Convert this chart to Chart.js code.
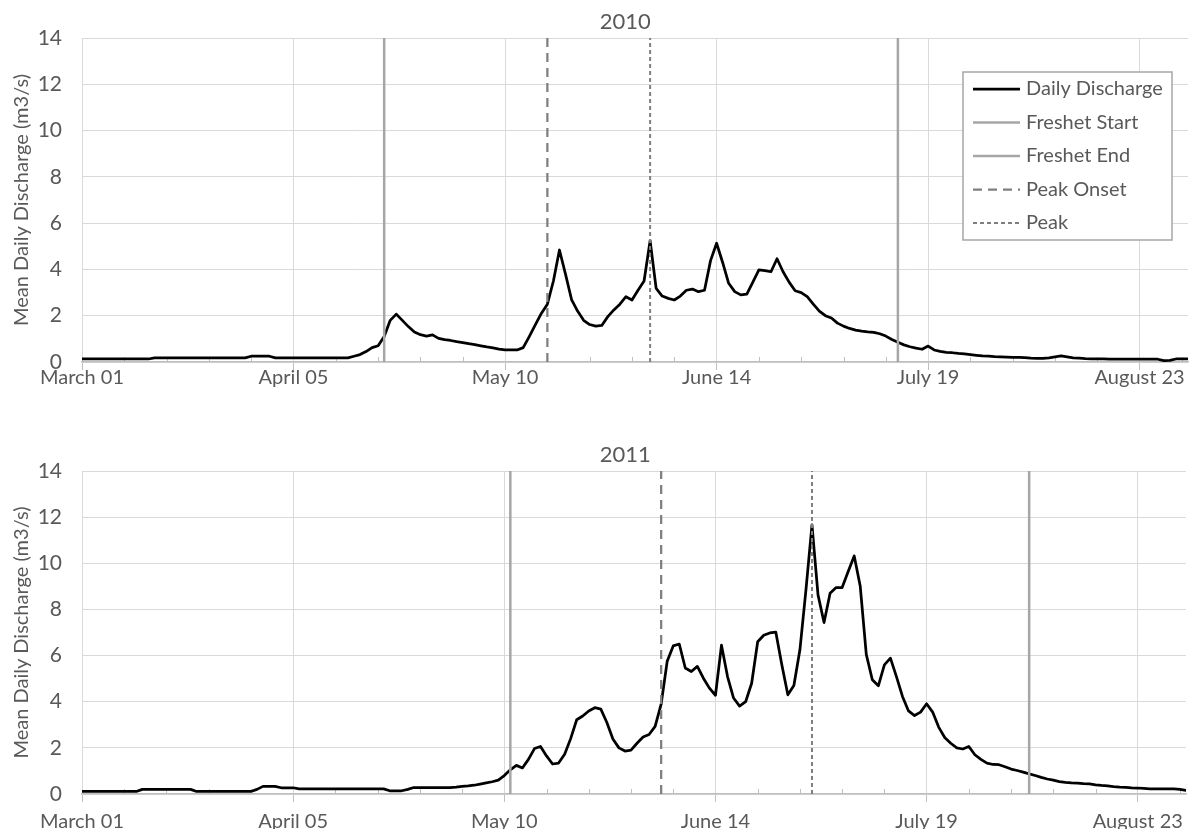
<!DOCTYPE html>
<html>
<head>
<meta charset="utf-8">
<title>Mean Daily Discharge 2010 / 2011</title>
<script src="https://cdn.jsdelivr.net/npm/chart.js@4.4.1/dist/chart.umd.min.js"></script>
<style>
  html, body { margin: 0; padding: 0; background: #ffffff; }
  #page { position: relative; width: 1190px; height: 835px; overflow: hidden; }
  .panel { position: absolute; left: 0; width: 1190px; }
  #panel2010 { top: 0; height: 400px; }
  #panel2011 { top: 400px; height: 435px; }
</style>
</head>
<body>
<div id="page">
  <div class="panel" id="panel2010"><canvas id="chart2010" width="1190" height="400"></canvas></div>
  <div class="panel" id="panel2011"><canvas id="chart2011" width="1190" height="435"></canvas></div>
</div>
<script>
// ---- data: day index 0 = March 01, 183 = August 31 ----
const tickDays   = [0, 35, 70, 105, 140, 175];
const tickLabels = ['March 01', 'April 05', 'May 10', 'June 14', 'July 19', 'August 23'];
const lastDay = 183;
const yMax = 14;

// mean daily discharge (m3/s), one value per day
const discharge2010 = [
  // March
  0.13,0.13,0.13,0.13,0.13,0.13,0.13,0.13,0.13,0.13,0.13,0.13,
  0.18,0.18,0.18,0.18,0.18,0.18,0.18,0.18,0.18,0.18,0.18,0.18,0.18,0.18,0.18,0.18,
  0.25,0.25,0.25,
  // April
  0.25,0.18,0.18,0.18,0.18,0.18,0.18,0.18,0.18,0.18,0.18,0.18,0.18,0.18,
  0.25,0.32,0.45,0.62,0.7,1.1,1.8,2.07,1.8,1.53,1.3,1.18,1.12,1.17,1.02,0.97,
  // May
  0.93,0.88,0.84,0.79,0.75,0.7,0.65,0.61,0.56,0.52,0.52,0.52,0.62,1.1,1.6,2.1,
  2.5,3.5,4.84,3.8,2.7,2.2,1.8,1.62,1.55,1.58,1.96,2.25,2.5,2.82,2.68,
  // June
  3.1,3.5,5.24,3.18,2.85,2.75,2.68,2.85,3.1,3.15,3.04,3.1,4.38,5.13,4.3,
  3.4,3.04,2.9,2.93,3.45,3.98,3.95,3.9,4.46,3.9,3.45,3.08,3.0,2.82,2.5,
  // July
  2.2,2.0,1.9,1.68,1.55,1.45,1.38,1.33,1.3,1.28,1.22,1.12,0.97,0.85,0.74,0.66,
  0.6,0.55,0.69,0.52,0.46,0.42,0.4,0.37,0.35,0.32,0.29,0.26,0.25,0.23,0.22,
  // August
  0.21,0.2,0.2,0.19,0.17,0.16,0.16,0.18,0.22,0.26,0.22,0.18,0.17,0.15,0.14,0.13,
  0.13,0.12,0.12,0.12,0.12,0.12,0.12,0.12,0.12,0.12,0.06,0.07,0.13,0.13,0.13
];

const discharge2011 = [
  // March
  0.11,0.11,0.11,0.11,0.11,0.11,0.11,0.11,0.11,0.11,
  0.2,0.2,0.2,0.2,0.2,0.2,0.2,0.2,0.2,
  0.11,0.11,0.11,0.11,0.11,0.11,0.11,0.11,0.11,0.11,0.2,0.33,
  // April
  0.33,0.33,0.27,0.27,0.27,0.22,0.22,0.22,0.22,0.22,0.22,0.22,0.22,0.22,0.22,
  0.22,0.22,0.22,0.22,0.22,0.14,0.14,0.14,0.2,0.28,0.28,0.28,0.28,0.28,0.28,
  // May
  0.28,0.3,0.33,0.35,0.38,0.43,0.48,0.53,0.6,0.8,1.05,1.24,1.13,1.5,1.97,2.06,
  1.65,1.3,1.34,1.72,2.4,3.22,3.38,3.6,3.74,3.68,3.1,2.38,2.0,1.86,1.9,
  // June
  2.2,2.47,2.58,2.93,3.9,5.75,6.42,6.5,5.46,5.31,5.53,5.02,4.59,4.28,6.45,
  5.09,4.16,3.81,4.0,4.8,6.6,6.88,6.98,7.02,5.6,4.3,4.7,6.25,8.85,11.66,
  // July
  8.63,7.43,8.7,8.95,8.95,9.64,10.32,9.0,6.05,4.95,4.69,5.6,5.89,5.09,4.23,3.6,
  3.4,3.55,3.91,3.55,2.9,2.45,2.2,2.0,1.95,2.06,1.7,1.5,1.34,1.28,1.27,
  // August
  1.18,1.08,1.02,0.95,0.87,0.8,0.72,0.65,0.6,0.54,0.5,0.48,0.47,0.45,0.44,0.4,
  0.37,0.35,0.32,0.3,0.29,0.27,0.26,0.24,0.22,0.22,0.22,0.22,0.22,0.2,0.16
];

// freshet event days: start, end, peak onset, peak
const eventNames = ['Freshet Start', 'Freshet End', 'Peak Onset', 'Peak'];
const events2010 = [50, 135, 77, 94];
const events2011 = [71, 157, 96, 121];

// ---- styling ----
const FONT = 'Lato, "Liberation Sans", sans-serif';
const TEXT = '#595959';
const GRID = '#d9d9d9';
const AXIS = '#bfbfbf';

const eventStyles = [
  { color: '#a6a6a6', width: 2.5, dash: [] },
  { color: '#a6a6a6', width: 2.5, dash: [] },
  { color: '#7f7f7f', width: 2.25, dash: [9, 6] },
  { color: '#7f7f7f', width: 2, dash: [4, 3] }
];

function isMajor(v) { return tickDays.indexOf(v) !== -1; }

// short inward marks for the weekly minor ticks
const minorTicks = {
  id: 'minorTicks',
  beforeDatasetsDraw(chart) {
    const sx = chart.scales.x, area = chart.chartArea, ctx = chart.ctx;
    ctx.save();
    ctx.strokeStyle = AXIS;
    ctx.lineWidth = 1;
    sx.ticks.forEach(t => {
      if (isMajor(t.value)) return;
      const px = Math.round(sx.getPixelForValue(t.value)) + 0.5;
      ctx.beginPath();
      ctx.moveTo(px, area.bottom);
      ctx.lineTo(px, area.bottom - 5);
      ctx.stroke();
    });
    ctx.restore();
  }
};

// panel heading drawn above the plot
const panelTitle = {
  id: 'panelTitle',
  afterDraw(chart, args, opts) {
    if (!opts.text) return;
    const ctx = chart.ctx;
    ctx.save();
    ctx.font = '22px ' + FONT;
    ctx.fillStyle = TEXT;
    ctx.textAlign = 'center';
    ctx.textBaseline = 'middle';
    ctx.fillText(opts.text, chart.width * 0.5255, chart.chartArea.top - 16);
    ctx.restore();
  }
};

// boxed legend in the upper right of the plot
const boxLegend = {
  id: 'boxLegend',
  afterDraw(chart, args, opts) {
    if (!opts.display) return;
    const ctx = chart.ctx, area = chart.chartArea;
    const items = chart.data.datasets.slice().sort((a, b) => a.legendRank - b.legendRank);
    const rowH = 33.5, boxW = 209, boxH = 168;
    const left = area.right - 225, top = area.top + 34;
    ctx.save();
    ctx.fillStyle = '#ffffff';
    ctx.fillRect(left, top, boxW, boxH);
    ctx.strokeStyle = '#a6a6a6';
    ctx.lineWidth = 1.5;
    ctx.strokeRect(left, top, boxW, boxH);
    ctx.font = '20px ' + FONT;
    ctx.textBaseline = 'middle';
    ctx.textAlign = 'left';
    items.forEach((ds, i) => {
      const cy = top + 17 + i * rowH;
      ctx.beginPath();
      ctx.strokeStyle = ds.borderColor;
      ctx.lineWidth = ds.borderWidth;
      ctx.setLineDash(ds.borderDash || []);
      ctx.moveTo(left + 10, cy);
      ctx.lineTo(left + 57, cy);
      ctx.stroke();
      ctx.setLineDash([]);
      ctx.fillStyle = TEXT;
      ctx.fillText(ds.label, left + 63, cy);
    });
    ctx.restore();
  }
};

function buildChart(canvasId, year, values, events, opt) {
  const datasets = events.map((day, i) => ({
    label: eventNames[i],
    legendRank: i + 1,
    data: [{ x: day, y: 0 }, { x: day, y: yMax }],
    borderColor: eventStyles[i].color,
    borderWidth: eventStyles[i].width,
    borderDash: eventStyles[i].dash,
    pointRadius: 0,
    order: 1
  }));
  datasets.push({
    label: 'Daily Discharge',
    legendRank: 0,
    data: values.map((v, d) => ({ x: d, y: v })),
    borderColor: '#000000',
    borderWidth: 2.75,
    borderJoinStyle: 'round',
    borderCapStyle: 'round',
    pointRadius: 0,
    tension: 0,
    order: 2
  });

  return new Chart(document.getElementById(canvasId), {
    type: 'line',
    data: { datasets },
    options: {
      responsive: false,
      animation: false,
      events: [],
      layout: { padding: { top: opt.padTop, right: 2, bottom: opt.padBottom, left: 8 } },
      plugins: {
        legend: { display: false },
        tooltip: { enabled: false },
        panelTitle: { text: String(year) },
        boxLegend: { display: opt.legend }
      },
      scales: {
        x: {
          type: 'linear',
          min: 0,
          max: lastDay,
          afterBuildTicks: s => {
            const t = [];
            for (let d = 0; d <= lastDay; d += 7) t.push({ value: d });
            s.ticks = t;
          },
          afterFit: s => { s.height = opt.xHeight; },
          ticks: {
            autoSkip: false,
            maxRotation: 0,
            color: TEXT,
            padding: opt.xPad,
            font: { family: FONT, size: 20, lineHeight: 1 },
            callback: v => { const i = tickDays.indexOf(v); return i >= 0 ? tickLabels[i] : ''; }
          },
          grid: {
            color: c => (c.tick && isMajor(c.tick.value)) ? GRID : 'rgba(0,0,0,0)',
            tickColor: c => (c.tick && isMajor(c.tick.value)) ? AXIS : 'rgba(0,0,0,0)',
            tickLength: 8,
            lineWidth: 1
          },
          border: { color: AXIS, width: 1.5 }
        },
        y: {
          min: 0,
          max: yMax,
          afterFit: s => { s.width = 74; },
          ticks: {
            stepSize: 2,
            color: TEXT,
            padding: 20,
            font: { family: FONT, size: 21 }
          },
          grid: { color: GRID, drawTicks: false, lineWidth: 1 },
          border: { display: false },
          title: {
            display: true,
            text: 'Mean Daily Discharge (m3/s)',
            color: TEXT,
            padding: { top: 2, bottom: 0 },
            font: { family: FONT, size: 20 }
          }
        }
      }
    },
    plugins: [minorTicks, panelTitle, boxLegend]
  });
}

buildChart('chart2010', 2010, discharge2010, events2010,
  { padTop: 38, padBottom: 8, xHeight: 30, xPad: -2, legend: true });
buildChart('chart2011', 2011, discharge2011, events2011,
  { padTop: 71, padBottom: 6, xHeight: 35, xPad: 10, legend: false });
</script>
</body>
</html>
